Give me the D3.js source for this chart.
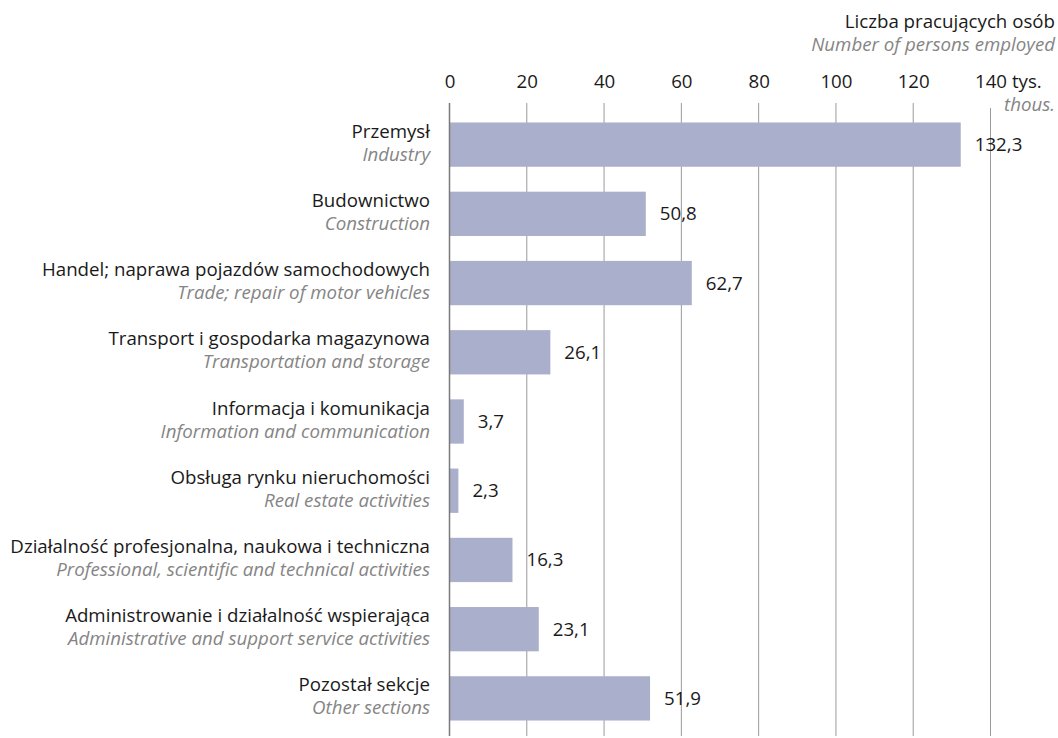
<!DOCTYPE html>
<html>
<head>
<meta charset="utf-8">
<script src="https://cdn.jsdelivr.net/npm/d3@7"></script>
<style>
  body { margin: 0; background: #fff; }
  svg text { font-family: "Open Sans", "Noto Sans", sans-serif; }
</style>
</head>
<body>
<div id="viz"></div>
<script>
var labelsPl = ["Przemysł", "Budownictwo", "Handel; naprawa pojazdów samochodowych",
  "Transport i gospodarka magazynowa", "Informacja i komunikacja",
  "Obsługa rynku nieruchomości", "Działalność profesjonalna, naukowa i techniczna",
  "Administrowanie i działalność wspierająca", "Pozostał sekcje"];
var labelsEn = ["Industry", "Construction", "Trade; repair of motor vehicles",
  "Transportation and storage", "Information and communication",
  "Real estate activities", "Professional, scientific and technical activities",
  "Administrative and support service activities", "Other sections"];
var values = [132.3, 50.8, 62.7, 26.1, 3.7, 2.3, 16.3, 23.1, 51.9];
var ticks = [0, 20, 40, 60, 80, 100, 120, 140];

var width = 1058, height = 738,
    fs = 18.7;

var x = d3.scaleLinear().domain([0, 140]).range([449.5, 990.5]);
var y = d3.scaleBand().domain(d3.range(values.length)).range([110, 733]).paddingInner(0.36).paddingOuter(0.18);

var svg = d3.select("#viz").append("svg")
  .attr("width", width).attr("height", height);

// gridlines
svg.append("g").selectAll("line")
  .data(ticks.slice(1))
  .enter().append("line")
    .attr("x1", function(d) { return x(d); })
    .attr("x2", function(d) { return x(d); })
    .attr("y1", function(d) { return d === 140 ? 108 : 103; }).attr("y2", 736)
    .attr("stroke", "#9a9a9a").attr("stroke-width", 1);

// bars
svg.append("g").selectAll("rect")
  .data(values)
  .enter().append("rect")
    .attr("x", x(0))
    .attr("y", function(d, i) { return y(i); })
    .attr("width", function(d) { return x(d) - x(0); })
    .attr("height", y.bandwidth())
    .attr("fill", "#aab0cb");

// zero line
svg.append("line")
  .attr("x1", x(0)).attr("x2", x(0))
  .attr("y1", 103).attr("y2", 736)
  .attr("stroke", "#7a7a7a").attr("stroke-width", 1.5);

// axis (top)
var axis = svg.append("g")
  .attr("transform", "translate(0,88)")
  .call(d3.axisTop(x).tickValues(ticks).tickSize(0).tickPadding(0)
    .tickFormat(function(d) { return d; }));
axis.select(".domain").remove();
axis.selectAll("text")
  .attr("dy", 0)
  .attr("font-size", fs).attr("fill", "#1a1a1a")
  .attr("font-family", "Open Sans, Noto Sans, sans-serif");
axis.selectAll(".tick").filter(function(d) { return d === 140; })
  .select("text")
  .each(function() {
    var t = d3.select(this);
    var w = this.getComputedTextLength();
    t.attr("text-anchor", "start").attr("x", -w / 2);
    t.append("tspan").text(" tys.");
  });

// value labels
svg.append("g").selectAll("text")
  .data(values)
  .enter().append("text")
    .attr("x", function(d) { return x(d) + 14; })
    .attr("y", function(d, i) { return y(i) + y.bandwidth() / 2; })
    .attr("dy", "0.35em")
    .attr("font-size", fs).attr("fill", "#1a1a1a")
    .text(function(d) { return d.toFixed(1).replace(".", ","); });

// category labels
var lab = svg.append("g").selectAll("g")
  .data(values)
  .enter().append("g")
    .attr("transform", function(d, i) { return "translate(430," + (y(i) + y.bandwidth() / 2) + ")"; });
lab.append("text")
  .attr("text-anchor", "end").attr("y", -7)
  .attr("font-size", fs).attr("fill", "#1a1a1a")
  .text(function(d, i) { return labelsPl[i]; });
lab.append("text")
  .attr("text-anchor", "end").attr("y", 16)
  .attr("font-size", fs).attr("font-style", "italic").attr("fill", "#858585")
  .text(function(d, i) { return labelsEn[i]; });

// header
svg.append("text")
  .attr("x", 1055).attr("y", 28).attr("text-anchor", "end")
  .attr("font-size", fs).attr("fill", "#1a1a1a")
  .text("Liczba pracujących osób");
svg.append("text")
  .attr("x", 1055).attr("y", 51).attr("text-anchor", "end")
  .attr("font-size", fs).attr("font-style", "italic").attr("fill", "#858585")
  .text("Number of persons employed");
svg.append("text")
  .attr("x", 1055).attr("y", 111).attr("text-anchor", "end")
  .attr("font-size", fs).attr("font-style", "italic").attr("fill", "#858585")
  .text("thous.");
</script>
</body>
</html>
